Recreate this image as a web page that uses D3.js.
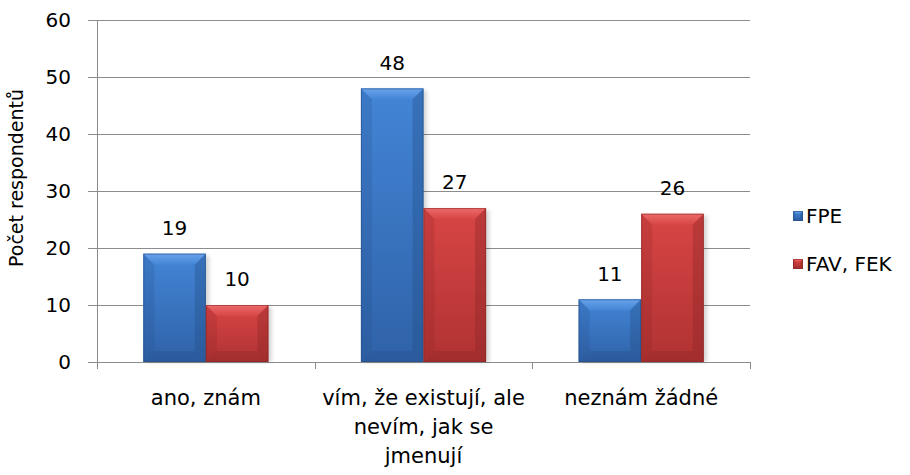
<!DOCTYPE html>
<html>
<head>
<meta charset="utf-8">
<script src="https://cdn.jsdelivr.net/npm/d3@7"></script>
<style>
  body { margin: 0; background: #fff; }
  text { font-family: "DejaVu Sans", sans-serif; fill: #000; }
</style>
</head>
<body>
<svg id="chart" width="910" height="475"></svg>
<script>
// chart data
var categories = ["ano, znám", "vím, že existují, ale nevím, jak se jmenují", "neznám žádné"];
var categoryLines = [["ano, znám"], ["vím, že existují, ale", "nevím, jak se", "jmenují"], ["neznám žádné"]];
var seriesNames = ["FPE", "FAV, FEK"];
var fpeValues = [19, 48, 11];
var favFekValues = [10, 27, 26];
var yTicks = [0, 10, 20, 30, 40, 50, 60];

var palette = {
  "FPE": { top: "#4385d6", bottom: "#2f62a8", light: "#6aa3ea", dark: "#234d85" },
  "FAV, FEK": { top: "#d84545", bottom: "#b03232", light: "#ec6b6b", dark: "#862424" }
};

// plot area
var margin = {top: 20, right: 160, bottom: 113, left: 97},
    width = 910, height = 475,
    innerWidth = width - margin.left - margin.right,
    innerHeight = height - margin.top - margin.bottom;

var svg = d3.select("#chart");
var defs = svg.append("defs");

seriesNames.forEach(function(s, i) {
  var g = defs.append("linearGradient").attr("id", "grad" + i)
    .attr("x1", 0).attr("y1", 0).attr("x2", 0).attr("y2", 1);
  g.append("stop").attr("offset", "0%").attr("stop-color", palette[s].top);
  g.append("stop").attr("offset", "100%").attr("stop-color", palette[s].bottom);
  var t = defs.append("linearGradient").attr("id", "top" + i)
    .attr("x1", 0).attr("y1", 0).attr("x2", 0).attr("y2", 1);
  t.append("stop").attr("offset", "0%").attr("stop-color", palette[s].light);
  t.append("stop").attr("offset", "100%").attr("stop-color", palette[s].top);
});

var blur = defs.append("filter").attr("id", "shadow").attr("x", "-20%").attr("y", "-5%").attr("width", "140%").attr("height", "110%");
blur.append("feGaussianBlur").attr("stdDeviation", 2);

var chart = svg.append("g").attr("transform", "translate(" + margin.left + "," + margin.top + ")");

var x0 = d3.scaleBand().domain(categories).range([0, innerWidth]).paddingInner(0.425).paddingOuter(0.2125);
var x1 = d3.scaleBand().domain(seriesNames).range([0, x0.bandwidth()]);
var y = d3.scaleLinear().domain([0, 60]).range([innerHeight, 0]);

// gridlines
chart.selectAll(".grid").data(yTicks).join("line")
  .attr("class", "grid")
  .attr("x1", -9).attr("x2", innerWidth)
  .attr("y1", d => Math.round(y(d)) + 0.5).attr("y2", d => Math.round(y(d)) + 0.5)
  .attr("stroke", "#8c8c8c").attr("stroke-width", 1);

// y axis line
chart.append("line")
  .attr("x1", 0.5).attr("x2", 0.5).attr("y1", 0).attr("y2", innerHeight + 7)
  .attr("stroke", "#8c8c8c");

// y tick labels
chart.selectAll(".ylab").data(yTicks).join("text")
  .attr("class", "ylab")
  .attr("x", -26).attr("y", d => y(d)).attr("dy", "0.36em")
  .attr("text-anchor", "end").style("font-size", "20px")
  .text(d => d);

// x category tick marks
var boundaries = [0].concat(categories.map((c, i) => (i + 1) * innerWidth / categories.length));
chart.selectAll(".xtick").data(boundaries).join("line")
  .attr("class", "xtick")
  .attr("x1", d => Math.round(d) + 0.5).attr("x2", d => Math.round(d) + 0.5)
  .attr("y1", innerHeight).attr("y2", innerHeight + 7)
  .attr("stroke", "#8c8c8c");

// bars
var barData = [];
categories.forEach(function(c, i) {
  barData.push({cat: c, series: "FPE", value: fpeValues[i], idx: 0});
  barData.push({cat: c, series: "FAV, FEK", value: favFekValues[i], idx: 1});
});

function drawBevelBar(g, bx, by, bw, bh, s, idx, bev, shadow) {
  var p = palette[s];
  if (shadow) {
    g.append("rect").attr("x", bx + 3).attr("y", by + 2).attr("width", bw).attr("height", bh - 2)
      .attr("fill", "#000").attr("opacity", 0.18).attr("filter", "url(#shadow)");
  }
  g.append("rect").attr("x", bx).attr("y", by).attr("width", bw).attr("height", bh)
    .attr("fill", "url(#grad" + idx + ")");
  var b = Math.min(bev, bw / 2, bh / 2);
  // top bevel
  g.append("polygon")
    .attr("points", [[bx, by], [bx + bw, by], [bx + bw - b, by + b], [bx + b, by + b]].join(" "))
    .attr("fill", "url(#top" + idx + ")");
  // left bevel
  g.append("polygon")
    .attr("points", [[bx, by], [bx + b, by + b], [bx + b, by + bh - b], [bx, by + bh]].join(" "))
    .attr("fill", p.dark).attr("opacity", 0.2);
  // right bevel
  g.append("polygon")
    .attr("points", [[bx + bw, by], [bx + bw, by + bh], [bx + bw - b, by + bh - b], [bx + bw - b, by + b]].join(" "))
    .attr("fill", p.dark).attr("opacity", 0.35);
  // bottom bevel
  g.append("polygon")
    .attr("points", [[bx, by + bh], [bx + b, by + bh - b], [bx + bw - b, by + bh - b], [bx + bw, by + bh]].join(" "))
    .attr("fill", p.dark).attr("opacity", 0.3);
  g.append("rect").attr("x", bx + 0.5).attr("y", by + 0.5).attr("width", bw - 1).attr("height", bh - 1)
    .attr("fill", "none").attr("stroke", p.dark).attr("stroke-opacity", 0.55);
}

barData.forEach(function(d) {
  var bx = x0(d.cat) + x1(d.series);
  var by = y(d.value);
  var g = chart.append("g").attr("class", "bar");
  drawBevelBar(g, bx, by, x1.bandwidth(), innerHeight - by, d.series, d.idx, 11, true);
  chart.append("text")
    .attr("x", bx + x1.bandwidth() / 2).attr("y", by - 26).attr("dy", "0.36em")
    .attr("text-anchor", "middle").style("font-size", "20px")
    .text(d.value);
});

// x category labels
categories.forEach(function(c, i) {
  var cx = x0(c) + x0.bandwidth() / 2;
  var t = chart.append("text")
    .attr("x", cx).attr("y", innerHeight + 35)
    .attr("text-anchor", "middle").style("font-size", "21px");
  categoryLines[i].forEach(function(line, j) {
    t.append("tspan").attr("x", cx).attr("dy", j === 0 ? "0.36em" : "29px").text(line);
  });
});

// y axis title
svg.append("text")
  .attr("transform", "translate(16,178) rotate(-90)")
  .attr("text-anchor", "middle").attr("dy", "0.36em").style("font-size", "19px")
  .text("Počet respondentů");

// legend
var legend = svg.append("g").attr("transform", "translate(793,0)");
seriesNames.forEach(function(s, i) {
  var ly = 216 + i * 48;
  drawBevelBar(legend, 0, ly - 5, 10, 10, s, i, 3, false);
  legend.append("text").attr("x", 13).attr("y", ly).attr("dy", "0.36em")
    .style("font-size", "20px").text(s);
});
</script>
</body>
</html>
